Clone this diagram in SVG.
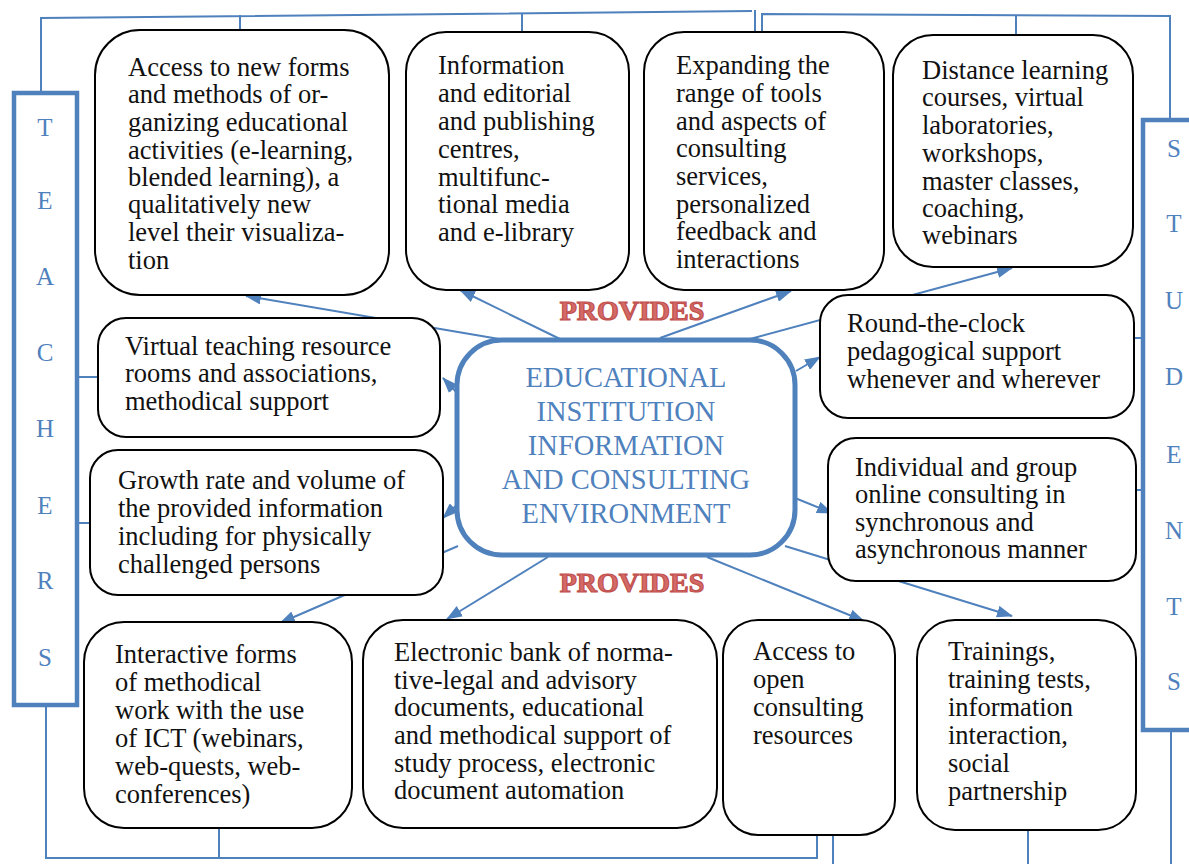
<svg xmlns="http://www.w3.org/2000/svg" width="1189" height="864" viewBox="0 0 1189 864">
<defs>
<style>
.box{fill:#fff;stroke:#000;stroke-width:2}
.t{font-family:"Liberation Serif","Times New Roman",serif;font-size:26.5px;fill:#111}
.ln{stroke:#4F81BD;stroke-width:2;fill:none}
.ar{stroke:#4F81BD;stroke-width:2;fill:none;marker-end:url(#ah)}
.bar{fill:#fff;stroke:#4F81BD;stroke-width:4.5}
.lt{font-family:"Liberation Serif","Times New Roman",serif;font-size:25px;fill:#4F81BD;text-anchor:middle}
.ct{font-family:"Liberation Serif","Times New Roman",serif;font-size:28.5px;fill:#4F81BD;text-anchor:middle}
.pr{font-family:"Liberation Serif","Times New Roman",serif;font-size:28px;font-weight:bold;fill:#D46A67;stroke:#C0504D;stroke-width:1.2;text-anchor:middle}
</style>
<marker id="ah" viewBox="0 0 16 12" refX="15" refY="6" markerWidth="16" markerHeight="12" markerUnits="userSpaceOnUse" orient="auto">
<path d="M0,0 L16,6 L0,12 Z" fill="#4F81BD"/>
</marker>
</defs>

<g id="connectors">
<path class="ln" d="M41,93 L41,18 L752,11"/>
<path class="ln" d="M240,15 L240,31"/>
<path class="ln" d="M522,13 L522,33"/>
<path class="ln" d="M755,10 L755,34"/>
<path class="ln" d="M762,34 L762,14 L1170,16 L1170,120"/>
<path class="ln" d="M1016,15 L1016,36"/>
<path class="ln" d="M77,377 L98,377"/>
<path class="ln" d="M77,523 L90,523"/>
<path class="ln" d="M1134,338 L1143,338"/>
<path class="ln" d="M1136,490 L1143,490"/>
<path class="ln" d="M46,705 L46,858 L817,858 L817,835"/>
<path class="ln" d="M219,828 L219,858"/>
<path class="ln" d="M833,835 L833,864"/>
<path class="ln" d="M1028,830 L1028,864"/>
<path class="ln" d="M1171,730 L1171,864"/>
<path class="ar" d="M505,340 L246,296"/>
<path class="ar" d="M562,340 L460,290"/>
<path class="ar" d="M660,338 L791,291"/>
<path class="ar" d="M750,339 L1012,268"/>
<path class="ar" d="M796,371 L820,357"/>
<path class="ar" d="M462,398 L443,378"/>
<path class="ar" d="M462,500 L443,518"/>
<path class="ar" d="M458,546 L280,623"/>
<path class="ar" d="M548,557 L447,619"/>
<path class="ar" d="M707,557 L864,621"/>
<path class="ar" d="M785,546 L1012,616"/>
<path class="ar" d="M790,496 L832,513"/>
</g>

<g id="teachers">
<rect class="bar" x="14" y="93" width="63" height="612"/>
<text class="lt" x="45" y="136">T</text>
<text class="lt" x="45" y="209">E</text>
<text class="lt" x="45" y="285">A</text>
<text class="lt" x="45" y="361">C</text>
<text class="lt" x="45" y="437">H</text>
<text class="lt" x="45" y="514">E</text>
<text class="lt" x="45" y="589">R</text>
<text class="lt" x="45" y="666">S</text>
</g>

<g id="students">
<rect class="bar" x="1143" y="120" width="60" height="610"/>
<text class="lt" x="1174" y="157">S</text>
<text class="lt" x="1174" y="232">T</text>
<text class="lt" x="1174" y="309">U</text>
<text class="lt" x="1174" y="385">D</text>
<text class="lt" x="1174" y="463">E</text>
<text class="lt" x="1174" y="539">N</text>
<text class="lt" x="1174" y="615">T</text>
<text class="lt" x="1174" y="690">S</text>
</g>

<g id="center">
<rect x="457" y="340" width="338" height="215" rx="45" fill="#fff" stroke="#4F81BD" stroke-width="5"/>
<text class="ct" x="626" y="387">EDUCATIONAL</text>
<text class="ct" x="626" y="421">INSTITUTION</text>
<text class="ct" x="626" y="455">INFORMATION</text>
<text class="ct" x="626" y="489">AND CONSULTING</text>
<text class="ct" x="626" y="523">ENVIRONMENT</text>
</g>

<g id="provides-top"><text class="pr" x="632" y="320">PROVIDES</text></g>
<g id="provides-bottom"><text class="pr" x="632" y="592">PROVIDES</text></g>

<g id="n1">
<rect class="box" x="95" y="30" width="294" height="265" rx="45"/>
<text class="t" x="128" y="76">Access to new forms</text>
<text class="t" x="128" y="103">and methods of or-</text>
<text class="t" x="128" y="131">ganizing educational</text>
<text class="t" x="128" y="159">activities (e-learning,</text>
<text class="t" x="128" y="186">blended learning), a</text>
<text class="t" x="128" y="213">qualitatively new</text>
<text class="t" x="128" y="241">level their visualiza-</text>
<text class="t" x="128" y="269">tion</text>
</g>

<g id="n2">
<rect class="box" x="406" y="32" width="223" height="258" rx="40"/>
<text class="t" x="438" y="74">Information</text>
<text class="t" x="438" y="102">and editorial</text>
<text class="t" x="438" y="130">and publishing</text>
<text class="t" x="438" y="158">centres,</text>
<text class="t" x="438" y="186">multifunc-</text>
<text class="t" x="438" y="213">tional media</text>
<text class="t" x="438" y="241">and e-library</text>
</g>

<g id="n3">
<rect class="box" x="644" y="32" width="240" height="258" rx="40"/>
<text class="t" x="676" y="74">Expanding the</text>
<text class="t" x="676" y="102">range of tools</text>
<text class="t" x="676" y="130">and aspects of</text>
<text class="t" x="676" y="157">consulting</text>
<text class="t" x="676" y="185">services,</text>
<text class="t" x="676" y="213">personalized</text>
<text class="t" x="676" y="240">feedback and</text>
<text class="t" x="676" y="268">interactions</text>
</g>

<g id="n4">
<rect class="box" x="893" y="35" width="240" height="232" rx="40"/>
<text class="t" x="922" y="79">Distance learning</text>
<text class="t" x="922" y="106">courses, virtual</text>
<text class="t" x="922" y="134">laboratories,</text>
<text class="t" x="922" y="162">workshops,</text>
<text class="t" x="922" y="190">master classes,</text>
<text class="t" x="922" y="217">coaching,</text>
<text class="t" x="922" y="244">webinars</text>
</g>

<g id="n5">
<rect class="box" x="98" y="318" width="342" height="119" rx="28"/>
<text class="t" x="125" y="355">Virtual teaching resource</text>
<text class="t" x="125" y="382">rooms and associations,</text>
<text class="t" x="125" y="410">methodical support</text>
</g>

<g id="n6">
<rect class="box" x="90" y="450" width="353" height="145" rx="28"/>
<text class="t" x="118" y="489">Growth rate and volume of</text>
<text class="t" x="118" y="517">the provided information</text>
<text class="t" x="118" y="545">including for physically</text>
<text class="t" x="118" y="573">challenged persons</text>
</g>

<g id="n7">
<rect class="box" x="820" y="295" width="314" height="123" rx="28"/>
<text class="t" x="847" y="332">Round-the-clock</text>
<text class="t" x="847" y="360">pedagogical support</text>
<text class="t" x="847" y="388">whenever and wherever</text>
</g>

<g id="n8">
<rect class="box" x="828" y="438" width="308" height="143" rx="28"/>
<text class="t" x="855" y="476">Individual and group</text>
<text class="t" x="855" y="503">online consulting in</text>
<text class="t" x="855" y="531">synchronous and</text>
<text class="t" x="855" y="558">asynchronous manner</text>
</g>

<g id="n9">
<rect class="box" x="84" y="622" width="268" height="206" rx="40"/>
<text class="t" x="115" y="663">Interactive forms</text>
<text class="t" x="115" y="691">of methodical</text>
<text class="t" x="115" y="719">work with the use</text>
<text class="t" x="115" y="747">of ICT (webinars,</text>
<text class="t" x="115" y="775">web-quests, web-</text>
<text class="t" x="115" y="803">conferences)</text>
</g>

<g id="n10">
<rect class="box" x="363" y="620" width="354" height="208" rx="40"/>
<text class="t" x="394" y="661">Electronic bank of norma-</text>
<text class="t" x="394" y="689">tive-legal and advisory</text>
<text class="t" x="394" y="716">documents, educational</text>
<text class="t" x="394" y="744">and methodical support of</text>
<text class="t" x="394" y="772">study process, electronic</text>
<text class="t" x="394" y="799">document automation</text>
</g>

<g id="n11">
<rect class="box" x="723" y="620" width="172" height="215" rx="35"/>
<text class="t" x="753" y="660">Access to</text>
<text class="t" x="753" y="688">open</text>
<text class="t" x="753" y="716">consulting</text>
<text class="t" x="753" y="744">resources</text>
</g>

<g id="n12">
<rect class="box" x="917" y="620" width="219" height="210" rx="38"/>
<text class="t" x="948" y="660">Trainings,</text>
<text class="t" x="948" y="688">training tests,</text>
<text class="t" x="948" y="716">information</text>
<text class="t" x="948" y="744">interaction,</text>
<text class="t" x="948" y="772">social</text>
<text class="t" x="948" y="800">partnership</text>
</g>
</svg>
